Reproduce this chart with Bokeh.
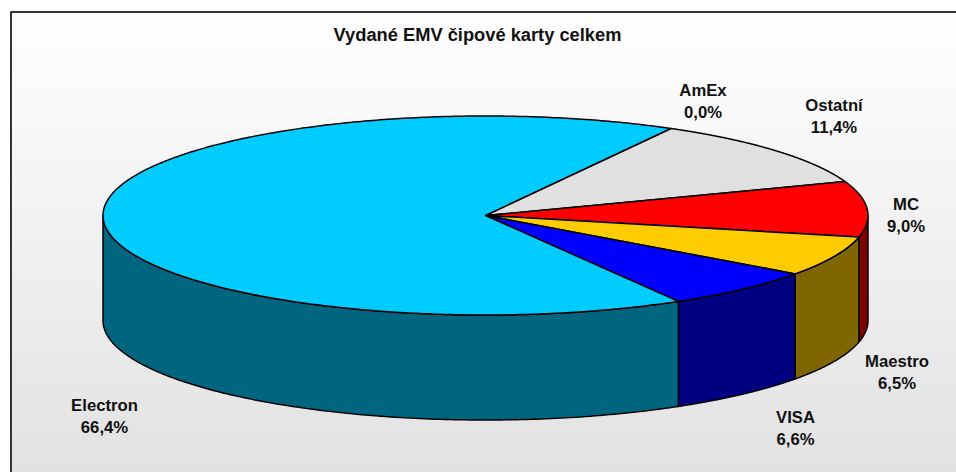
import numpy as np
from bokeh.plotting import figure
from bokeh.embed import file_html
from bokeh.resources import INLINE
from bokeh.core.properties import value

# --- chart data
labels = ["AmEx", "Ostatní", "MC", "Maestro", "VISA", "Electron"]
shares = [0.0, 11.4, 9.0, 6.5, 6.6, 66.4]
share_text = ["0,0%", "11,4%", "9,0%", "6,5%", "6,6%", "66,4%"]
top_colors = ["#FFFFFF", "#E0E0E0", "#FF0000", "#FFCC00", "#0000FF", "#00CCFF"]
side_colors = ["#808080", "#707070", "#800000", "#806600", "#000080", "#006680"]
title = "Vydané EMV čipové karty celkem"

# --- layout (page pixels)
W, H, M = 956, 472, 0
CX, CY, RX, RY, DEPTH = 485.0, 215.0, 382.5, 99.5, 105.0
START_DEG = 61.0
FRAME_X, FRAME_Y = 10.5, 11.5
GRAD_TOP, GRAD_BOTTOM = 12, 472
GRAD_END_LEVEL = 226
TITLE_POS = (477, 34)
LABEL_POS = {
    "AmEx": (702.5, 90), "Ostatní": (833.5, 105), "MC": (905.5, 204),
    "Maestro": (896.5, 361), "VISA": (795, 417), "Electron": (104, 405),
}
LINE_GAP = 22
FONT = value("Liberation Sans")

p = figure(width=W, height=H, x_range=(M, M + W), y_range=(M + H, M),
           output_backend="svg", toolbar_location=None, min_border=0,
           x_axis_type=None, y_axis_type=None, outline_line_color=None,
           background_fill_color="white", border_fill_color="white")
p.grid.visible = False

# gradient background
rows = np.arange(GRAD_TOP, GRAD_BOTTOM)
frac = (rows - GRAD_TOP) / (GRAD_BOTTOM - GRAD_TOP)
levels = (255 + (GRAD_END_LEVEL - 255) * frac).round().astype(int)
cols = ["#%02x%02x%02x" % (v, v, v) for v in levels]
p.quad(left=FRAME_X, right=M + W, top=rows - 0.5, bottom=rows + 1.5,
       fill_color=cols, line_color=None)
p.line([FRAME_X, FRAME_X, M + W], [M + H, FRAME_Y, FRAME_Y], line_color="#333333", line_width=2)

# slice angles (degrees, clockwise from START_DEG)
total = sum(shares)
ends = START_DEG - np.cumsum(shares) / total * 360.0
starts = np.concatenate([[START_DEG], ends[:-1]])

def rim(t0, t1, n=160):
    t = np.radians(np.linspace(t0, t1, n))
    return CX + RX * np.cos(t), CY - RY * np.sin(t)

# side walls: visible front half of the rim, t in [-180, 0]
for i in range(len(shares)):
    a, b = starts[i], ends[i]
    lo, hi = max(b, -180.0), min(a, 0.0)
    if hi <= lo:
        continue
    x, y = rim(hi, lo)
    xs = np.concatenate([x, x[::-1]])
    ys = np.concatenate([y, y[::-1] + DEPTH])
    p.patch(xs, ys, fill_color=side_colors[i], line_color="black", line_width=1.5)

# top faces
for i in range(len(shares)):
    if shares[i] == 0:
        continue
    x, y = rim(starts[i], ends[i], 400)
    p.patch(np.concatenate([[CX], x]), np.concatenate([[CY], y]),
            fill_color=top_colors[i], line_color="black", line_width=1.5,
            line_join="round")

# labels
for name, pct in zip(labels, share_text):
    lx, ly = LABEL_POS[name]
    p.text([lx, lx], [ly, ly + LINE_GAP], text=[name, pct], text_align="center",
           text_baseline="middle", text_font=FONT, text_font_style="bold",
           text_font_size="16.7px", text_color="#111111")
p.text([TITLE_POS[0]], [TITLE_POS[1]], text=[title], text_align="center",
       text_baseline="middle", text_font=FONT, text_font_style="bold",
       text_font_size="18.3px", text_color="#111111")

open("out.html", "w").write(file_html(p, INLINE))
